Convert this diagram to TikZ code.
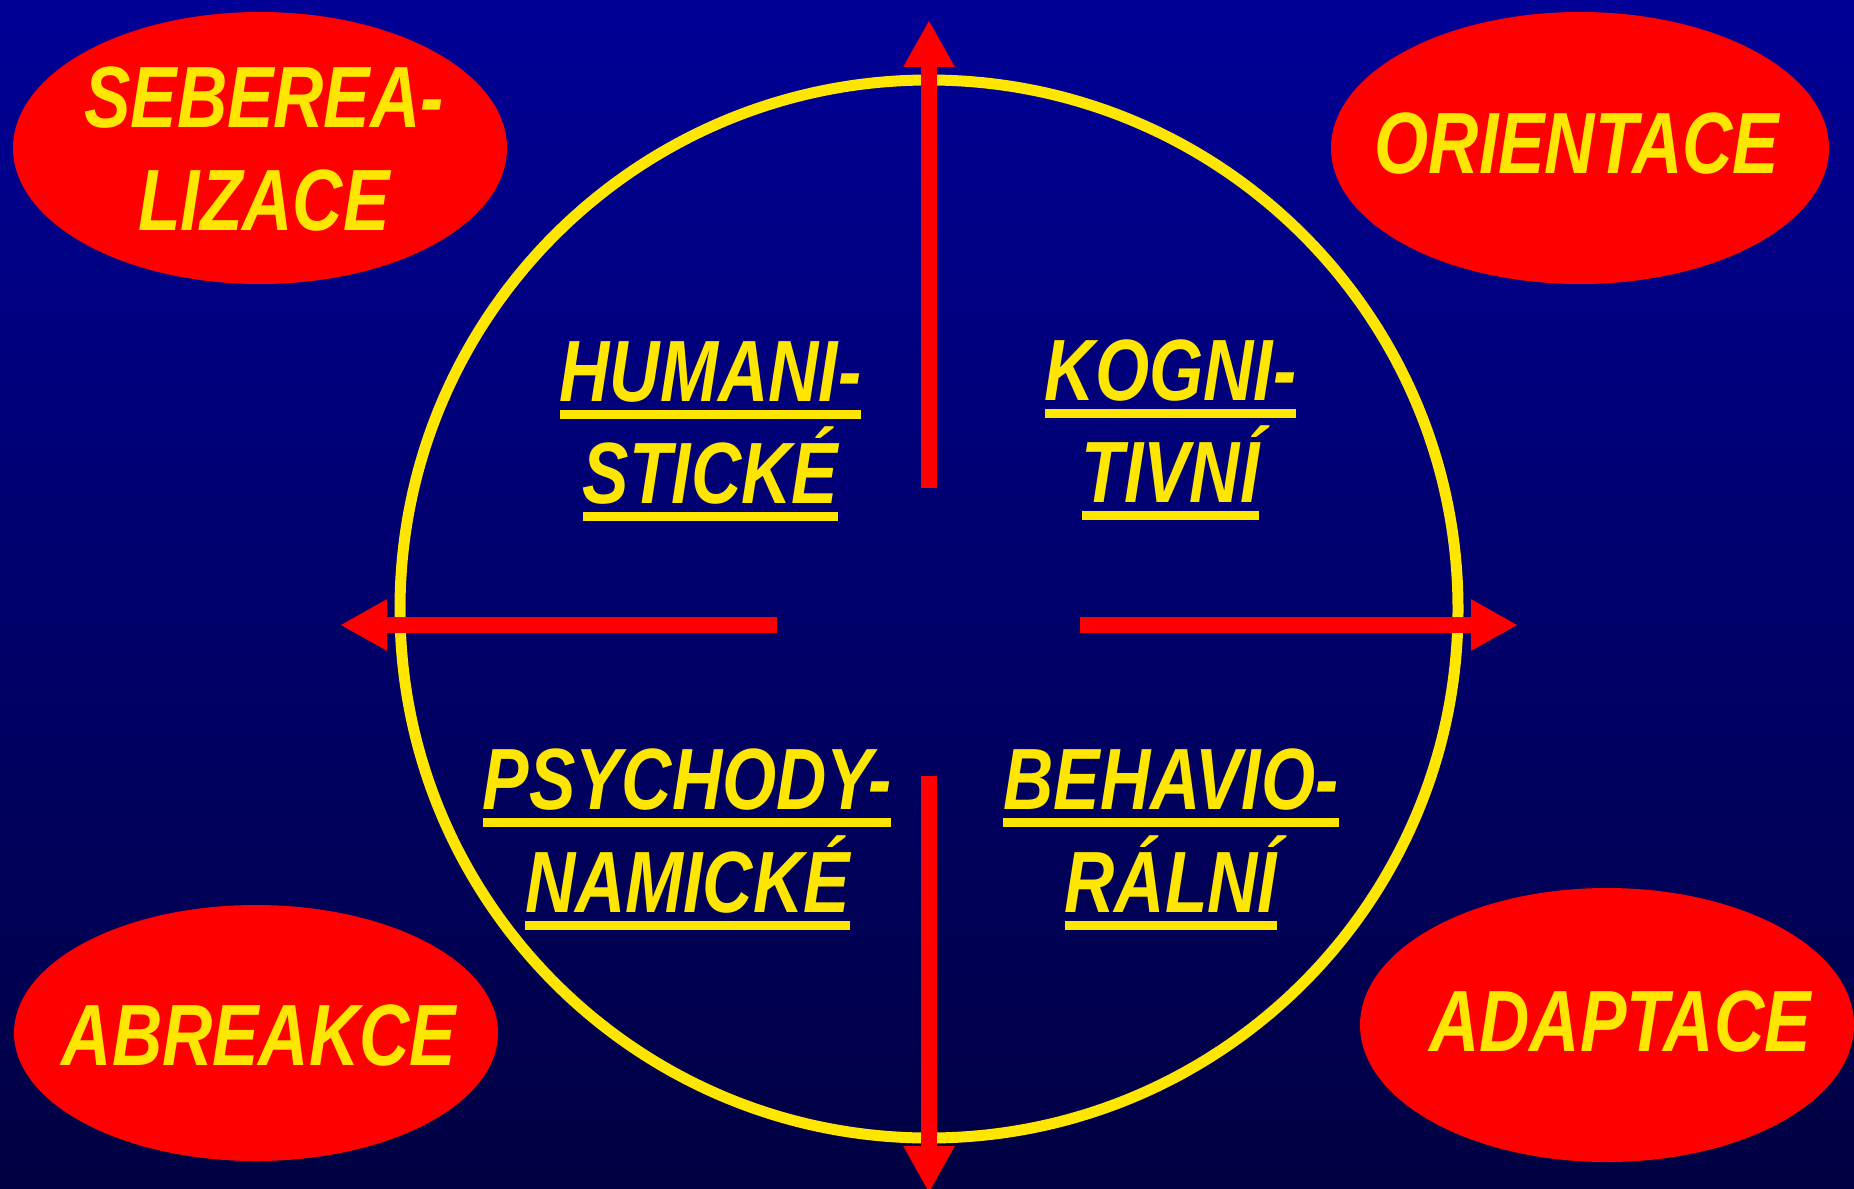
\documentclass[tikz,border=0pt]{standalone}
\usepackage{fontspec}
\newfontfamily\labfont[FakeStretch=0.8]{Liberation Sans}
\usetikzlibrary{arrows.meta,shapes.geometric}
\definecolor{bgtop}{RGB}{0,0,150}
\definecolor{bgbot}{RGB}{0,0,66}
\definecolor{ylw}{RGB}{255,230,0}
\definecolor{rd}{RGB}{255,0,0}
\newcommand{\ulword}[1]{\setbox0\hbox{#1}\rlap{\copy0}\rule[-18pt]{\wd0}{9pt}}
\tikzset{
  lab/.style={anchor=base, inner sep=0pt, text=ylw,
    font=\labfont\bfseries\itshape\fontsize{87}{102}\selectfont},
  oval/.style={ellipse, fill=rd, draw=none, inner sep=0pt},
  ring/.style={draw=ylw, line width=11pt},
  bigarrow/.style={draw=rd, line width=16pt,
    -{Triangle[length=47pt,width=48pt]}},
}
\begin{document}
\begin{tikzpicture}[x=1pt,y=-1pt]
\useasboundingbox (0,0) rectangle (1854,1188);
\shade[top color=bgtop, bottom color=bgbot] (0,0) rectangle (1854,1188);
% ellipses
\node[oval, minimum width=494pt, minimum height=272pt] (tl) at (260,148) {};
\node[oval, minimum width=498pt, minimum height=272pt] (tr) at (1580,148) {};
\node[oval, minimum width=484pt, minimum height=256pt] (bl) at (256,1033) {};
\node[oval, minimum width=494pt, minimum height=274pt] (br) at (1607,1025) {};
% circle
\coordinate (c) at (929,609);
\draw[ring] (c) circle[radius=529pt];
% arrows
\coordinate (us) at (929,488); \coordinate (ue) at (929,20);
\coordinate (ds) at (929,776); \coordinate (de) at (929,1193);
\coordinate (ls) at (777,625); \coordinate (le) at (340,625);
\coordinate (rs) at (1080,625); \coordinate (re) at (1518,625);
\draw[bigarrow] (us) -- (ue);
\draw[bigarrow] (ds) -- (de);
\draw[bigarrow] (ls) -- (le);
\draw[bigarrow] (rs) -- (re);
% ellipse labels
\node[lab] (t1a) at (264,128) {SEBEREA-};
\node[lab] (t1b) at (264,230) {LIZACE};
\node[lab] (t2) at (1577,173) {ORIENTACE};
\node[lab] (t3) at (259,1065) {ABREAKCE};
\node[lab] (t4) at (1620,1051) {ADAPTACE};
% quadrant labels
\node[lab] (q1a) at (710.5,401) {\ulword{HUMANI-}};
\node[lab] (q1b) at (710.5,503) {\ulword{STICKÉ}};
\node[lab] (q2a) at (1170.5,400) {\ulword{KOGNI-}};
\node[lab] (q2b) at (1170.5,502) {\ulword{TIVNÍ}};
\node[lab] (q3a) at (687,809) {\ulword{PSYCHODY-}};
\node[lab] (q3b) at (687.5,912) {\ulword{NAMICKÉ}};
\node[lab] (q4a) at (1171,809) {\ulword{BEHAVIO-}};
\node[lab] (q4b) at (1171,912) {\ulword{RÁLNÍ}};
\end{tikzpicture}
\end{document}
